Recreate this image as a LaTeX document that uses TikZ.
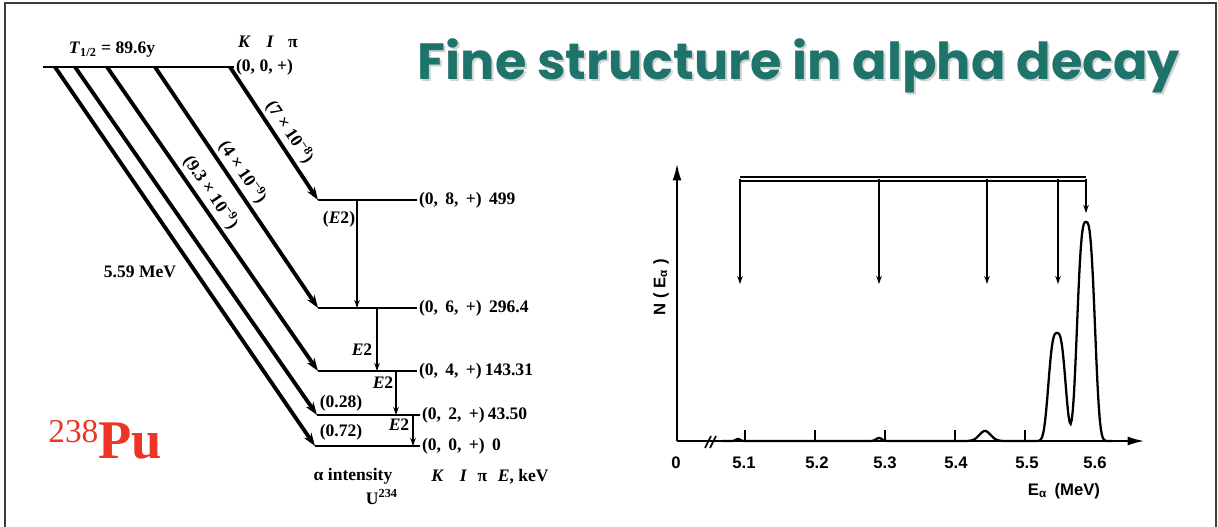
\documentclass[tikz,border=0pt]{standalone}
\usepackage{fontspec}
\setmainfont{Liberation Serif}
\newfontfamily\titlefont{Poppins}
\newfontfamily\axisfont{Liberation Sans}
\usetikzlibrary{arrows.meta,positioning,calc}
\definecolor{titleteal}{RGB}{30,116,106}
\definecolor{pured}{RGB}{238,52,36}
\definecolor{framegray}{RGB}{60,60,60}

\begin{document}
\begin{tikzpicture}[x=0.02cm,y=-0.02cm,font=\fontsize{10}{12}\selectfont\bfseries,
  >={Stealth[length=2.6mm,width=1.8mm]},
  lvl/.style={line width=1.4pt},
  dec/.style={->,line width=2.2pt},
  gam/.style={-{Stealth[length=1.6mm,width=1.1mm]},line width=0.8pt},
  lab/.style={anchor=west,inner sep=1pt},
  rot/.style={rotate=-56,inner sep=0pt},
  ax/.style={font=\axisfont\fontsize{9.5}{11}\selectfont\bfseries},
  sp/.style={-{Stealth[length=1.6mm,width=1.1mm]},line width=0.8pt},
  declare function={gs(\u,\s)=exp(0-(min(abs(\u)/\s,3.5))^2);
                    cb(\u,\s)=exp(0-(min(abs(\u)/\s,3))^3);}]
\useasboundingbox (0,0) rectangle (1218,527);
\draw[framegray,line width=1.2pt] (5,527) -- (5,3) -- (1216,3) -- (1216,527);
% TITLE
\node[gray!35,font=\titlefont\fontsize{29}{35}\selectfont\bfseries,anchor=base] (tshadow) at (801,82) {Fine structure in alpha decay};
\node[titleteal,font=\titlefont\fontsize{29}{35}\selectfont\bfseries,anchor=base] (title) at (799,80) {Fine structure in alpha decay};
\node[pured,font=\fontsize{31}{36}\selectfont\bfseries,anchor=base west,inner sep=0pt] (pu) at (48,458) {\raisebox{9pt}{\fontsize{19}{22}\selectfont\mdseries 238}Pu};
% LEVEL SCHEME
\coordinate (p0w) at (43,67); \coordinate (p0e) at (234,67);
\draw[lvl] (p0w) -- (p0e);
\node[lab] (n0p) at (p0e) {(0, 0, +)};
\node (kip) at (268,42) {\textit{K}\hspace{9pt}\textit{I}\hspace{8pt}π};
\node (thalf) at (112,50) {\textit{T}\textsubscript{1/2} = 89.6y};
\coordinate (l8w) at (318,200); \coordinate (l8e) at (417,200);
\coordinate (l6w) at (318,308); \coordinate (l6e) at (417,308);
\coordinate (l4w) at (318,371); \coordinate (l4e) at (417,371);
\coordinate (l2w) at (317,415); \coordinate (l2e) at (420,415);
\coordinate (l0w) at (315,446); \coordinate (l0e) at (420,446);
\draw[lvl] (l8w) -- (l8e); \draw[lvl] (l6w) -- (l6e); \draw[lvl] (l4w) -- (l4e);
\draw[lvl] (l2w) -- (l2e); \draw[lvl] (l0w) -- (l0e);
\node[lab] (n8) at (l8e) {(0,\, 8,\, +)\, 499};
\node[lab] (n6) at (l6e) {(0,\, 6,\, +)\, 296.4};
\node[lab] (n4) at (l4e) {(0,\, 4,\, +)\,143.31};
\node[lab] (n2) at (l2e) {(0,\, 2,\, +)\,43.50};
\node[lab] (n0) at (l0e) {(0,\, 0,\, +)\, 0};
% alpha branches
\coordinate (p1) at (55,67); \coordinate (p2) at (75,67); \coordinate (p3) at (107,67);
\coordinate (p4) at (155,67); \coordinate (p5) at (230,67);
\draw[dec] (p1) -- (l0w); \draw[dec] (p2) -- (l2w); \draw[dec] (p3) -- (l4w);
\draw[dec] (p4) -- (l6w); \draw[dec] (p5) -- (l8w);
\node[rot] (i8) at (290,132) {(7 × 10\textsuperscript{−8})};
\node[rot] (i6) at (243,172) {(4 × 10\textsuperscript{−9})};
\node[rot] (i4) at (211,192) {(9.3 × 10\textsuperscript{−9})};
\node (emev) at (140,272) {5.59 MeV};
\node (i2) at (341,403) {(0.28)};
\node (i0) at (341,432) {(0.72)};
% gamma cascade
\coordinate (g8) at (357,200); \coordinate (g8e) at (357,308);
\coordinate (g6) at (377,308); \coordinate (g6e) at (377,371);
\coordinate (g4) at (396,371); \coordinate (g4e) at (396,415);
\coordinate (g2) at (413,415); \coordinate (g2e) at (413,446);
\draw[gam] (g8) -- (g8e); \draw[gam] (g6) -- (g6e);
\draw[gam] (g4) -- (g4e); \draw[gam] (g2) -- (g2e);
\node (e8) at (339,219) {(\textit{E}2)};
\node (e6) at (362,350) {\textit{E}2};
\node (e4) at (383,383) {\textit{E}2};
\node (e2) at (399,425) {\textit{E}2};
\node (alint) at (353,476) {α intensity};
\node (kie) at (490,477) {\textit{K}\hspace{9pt}\textit{I}\hspace{6pt}π\hspace{6pt}\textit{E}, keV};
\node (u234) at (382,497) {U\textsuperscript{234}};
% SPECTRUM
\coordinate (o) at (677,441); \coordinate (ytop) at (677,163); \coordinate (xend) at (1145,441);
\draw[line width=1.4pt,-{Latex[length=3.5mm,width=1.8mm]}] (o) -- (ytop);
\draw[line width=1.4pt,-{Latex[length=3.5mm,width=1.8mm]}] (o) -- (xend);
\draw[line width=0.9pt] (705,448) -- (711,436); \draw[line width=0.9pt] (710,448) -- (716,436);
\draw[line width=0.9pt] (745,441) -- ++(0,-11); \draw[line width=0.9pt] (815,441) -- ++(0,-11);
\draw[line width=0.9pt] (885,441) -- ++(0,-11); \draw[line width=0.9pt] (955,441) -- ++(0,-11);
\draw[line width=0.9pt] (1025,441) -- ++(0,-11);
\node[ax] (t0) at (676,463) {0};
\node[ax] (t1) at (744,463) {5.1};
\node[ax] (t2) at (817,463) {5.2};
\node[ax] (t3) at (885,463) {5.3};
\node[ax] (t4) at (956,463) {5.4};
\node[ax] (t5) at (1027,463) {5.5};
\node[ax] (t6) at (1095,463) {5.6};
\node[ax] (xlab) at (1064,491) {E\textsubscript{α}\, (MeV)};
\node[ax,rotate=90] (ylab) at (661,287) {N ( E\textsubscript{α} )};
\draw[line width=1.3pt] plot[domain=722:1112,samples=350]
  (\x,{441-2*gs(\x-738,3)-3*gs(\x-879,4)-10*gs(\x-985,8)-108*cb(\x-1057,10)-219*cb(\x-1086,10.4)});
% line energies
\coordinate (b1) at (740,179); \coordinate (b2) at (879,179); \coordinate (b3) at (987,179);
\coordinate (b4) at (1058,179); \coordinate (b5) at (1086,179);
\coordinate (a1) at (740,284); \coordinate (a2) at (879,284); \coordinate (a3) at (987,284);
\coordinate (a4) at (1058,284); \coordinate (a5) at (1086,213);
\draw[line width=0.7pt,double,double distance=1.5pt] (b1) -- (b5);
\draw[sp] (b1) -- (a1); \draw[sp] (b2) -- (a2); \draw[sp] (b3) -- (a3);
\draw[sp] (b4) -- (a4); \draw[sp] (b5) -- (a5);
\end{tikzpicture}
\end{document}
